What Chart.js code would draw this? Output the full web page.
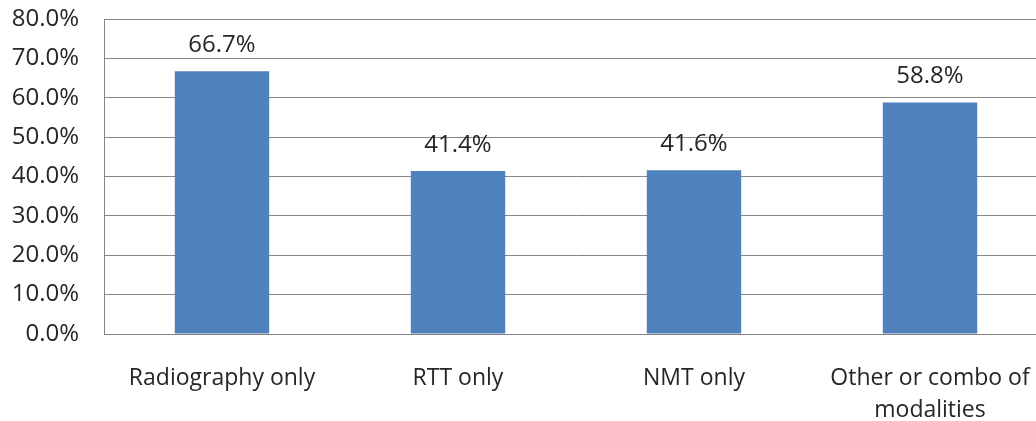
<!DOCTYPE html>
<html>
<head>
<meta charset="utf-8">
<script src="https://cdn.jsdelivr.net/npm/chart.js@4"></script>
<style>
  html, body { margin: 0; padding: 0; background: #fff; overflow: hidden; }
  #wrap { width: 1050px; height: 421px; }
</style>
</head>
<body>
<div id="wrap"><canvas id="barChart" width="1050" height="421"></canvas></div>
<script>
const categories = [['Radiography only'], ['RTT only'], ['NMT only'], ['Other or combo of', 'modalities']];
const shareValues = [66.7, 41.4, 41.6, 58.8];
const yTicks = [0, 10, 20, 30, 40, 50, 60, 70, 80];

const barLabels = {
    id: 'barLabels',
    afterDatasetsDraw(chart) {
        const ctx = chart.ctx;
        const meta = chart.getDatasetMeta(0);
        ctx.save();
        ctx.font = '24px "Open Sans"';
        ctx.fillStyle = '#262626';
        ctx.textAlign = 'center';
        ctx.textBaseline = 'middle';
        meta.data.forEach(function (bar, i) {
            ctx.fillText(shareValues[i].toFixed(1) + '%', bar.x, bar.y - 26);
        });
        ctx.restore();
    }
};

document.addEventListener('DOMContentLoaded', function () {
    const ctx = document.getElementById('barChart').getContext('2d');
    new Chart(ctx, {
        type: 'bar',
        data: {
            labels: categories,
            datasets: [{
                data: shareValues,
                backgroundColor: '#4F81BD',
                borderWidth: 0,
                barPercentage: 0.4,
                categoryPercentage: 1
            }]
        },
        options: {
            responsive: false,
            animation: false,
            layout: { padding: { top: 19, right: 2, left: 0, bottom: 0 } },
            plugins: { legend: { display: false }, tooltip: { enabled: false } },
            scales: {
                x: {
                    grid: { display: false, drawTicks: false },
                    border: { color: '#868686' },
                    ticks: { color: '#262626', font: { family: 'Open Sans', size: 23, lineHeight: 1.4 }, padding: 28, maxRotation: 0 },
                    afterFit: function (scale) { scale.height = 87; scale.paddingLeft = 0; scale.paddingRight = 0; }
                },
                y: {
                    min: 0,
                    max: 80,
                    afterBuildTicks: function (scale) { scale.ticks = yTicks.map(v => ({ value: v })); },
                    grid: { color: '#868686', drawTicks: false },
                    border: { color: '#868686' },
                    ticks: {
                        color: '#262626',
                        font: { family: 'Open Sans', size: 24 },
                        padding: 25,
                        callback: function (v) { return v.toFixed(1) + '%'; }
                    },
                    afterFit: function (scale) { scale.width = 104; scale.paddingTop = 0; scale.paddingBottom = 0; }
                }
            }
        },
        plugins: [barLabels]
    });
});
</script>
</body>
</html>
